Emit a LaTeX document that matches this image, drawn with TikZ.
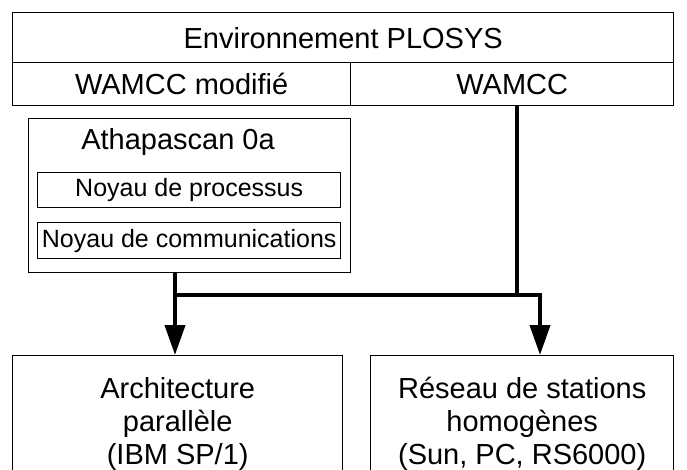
\documentclass[tikz,border=0pt]{standalone}
\usepackage{fontspec}
\setmainfont{Liberation Sans}
\usetikzlibrary{arrows.meta}
\tikzset{
  box/.style={draw=black, line width=1.4pt, inner sep=0pt, anchor=north west,
    font=\fontsize{29}{33}\selectfont, align=center},
  smallbox/.style={box, font=\fontsize{25}{29}\selectfont},
  conn/.style={draw=black, line width=4pt, line join=miter},
  arr/.style={conn, -{Triangle[width=20pt,length=30pt]}}
}
\begin{document}
\begin{tikzpicture}[x=1pt,y=-1pt]
\useasboundingbox (0,0) rectangle (687,470);
\node[box, minimum width=661pt, minimum height=50pt] (env) at (12,12) {Environnement PLOSYS};
\node[box, minimum width=338pt, minimum height=43pt] (wm) at (12,62) {WAMCC modifié};
\node[box, minimum width=323pt, minimum height=43pt] (wa) at (350,62) {WAMCC};
\node[box, minimum width=322pt, minimum height=154pt] (ath) at (28,118) {};
\node[font=\fontsize{29}{33}\selectfont, inner sep=0pt] (athT) at (178,142) {Athapascan 0a};
\node[smallbox, minimum width=303pt, minimum height=35pt] (np) at (37,172) {Noyau de processus};
\node[smallbox, minimum width=303pt, minimum height=36pt] (nc) at (37,222) {Noyau de communications};
\node[box, minimum width=330pt, minimum height=136pt] (arch) at (12,355) {Architecture\\parallèle\\(IBM SP/1)};
\node[box, minimum width=303pt, minimum height=136pt] (res) at (370,355) {Réseau de stations\\homogènes\\(Sun, PC, RS6000)};
\coordinate (j1) at (175,295);
\coordinate (j2) at (517,295);
\coordinate (j3) at (540,295);
\draw[conn] (ath.south -| j1) -- (j1);
\draw[conn] (wa.south -| j2) -- (j2);
\draw[arr] (j1) -- (arch.north -| j1);
\draw[arr] (j1) -- (j3) -- (res.north -| j3);
\end{tikzpicture}
\end{document}
